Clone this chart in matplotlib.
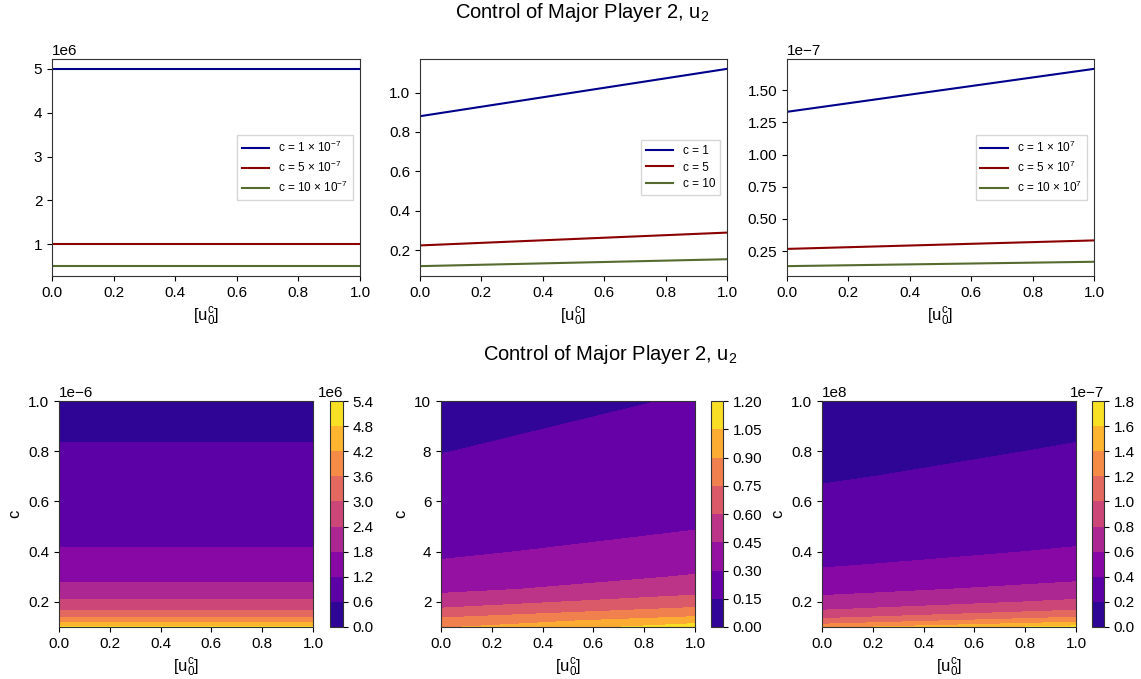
import numpy as np
import matplotlib
matplotlib.use("Agg")
import matplotlib.pyplot as plt

plt.rcParams['font.family'] = ['Liberation Sans', 'DejaVu Sans']
plt.rcParams['mathtext.default'] = 'regular'
plt.rcParams['axes.edgecolor'] = '0.2'

# ---- top row: control vs u0^c for three values of c ----
x_line = [0.0, 1.0]

# left panel, c = 1, 5, 10 (x 1e-7)
left_labels = [r'c = 1 × $10^{-7}$', r'c = 5 × $10^{-7}$', r'c = 10 × $10^{-7}$']
left_lines = [[5.0e6, 5.0e6], [1.0e6, 1.0e6], [0.5e6, 0.5e6]]

# middle panel, c = 1, 5, 10
mid_labels = ['c = 1', 'c = 5', 'c = 10']
mid_lines = [[0.88, 1.12], [0.225, 0.29], [0.12, 0.155]]

# right panel, c = 1, 5, 10 (x 1e7)
right_labels = [r'c = 1 × $10^{7}$', r'c = 5 × $10^{7}$', r'c = 10 × $10^{7}$']
right_lines = [[1.333e-7, 1.667e-7], [0.267e-7, 0.333e-7], [0.133e-7, 0.167e-7]]

line_colors = ['darkblue', 'darkred', 'darkolivegreen']

# ---- bottom row: control over (u0^c, c), values at u0^c = 0 and 1 ----
x_grid = [0.0, 1.0]

c_left = [0.10, 0.11, 0.12, 0.13, 0.14, 0.15, 0.17, 0.20, 0.25, 0.30,
          0.35, 0.40, 0.50, 0.60, 0.70, 0.80, 0.90, 1.00]          # x 1e-6
u_left = [[5.00, 5.00], [4.55, 4.55], [4.17, 4.17], [3.85, 3.85],
          [3.57, 3.57], [3.33, 3.33], [2.94, 2.94], [2.50, 2.50],
          [2.00, 2.00], [1.67, 1.67], [1.43, 1.43], [1.25, 1.25],
          [1.00, 1.00], [0.83, 0.83], [0.71, 0.71], [0.625, 0.625],
          [0.56, 0.56], [0.50, 0.50]]                                # x 1e6

c_mid = [1.0, 1.25, 1.5, 1.75, 2.0, 2.5, 3.0, 4.0, 5.0, 6.0, 8.0, 10.0]
u_mid = [[0.88, 1.12], [0.79, 0.99], [0.70, 0.85], [0.60, 0.76],
         [0.535, 0.67], [0.41, 0.54], [0.355, 0.46], [0.275, 0.36],
         [0.225, 0.29], [0.19, 0.245], [0.148, 0.19], [0.12, 0.155]]

c_right = [0.10, 0.11, 0.12, 0.13, 0.14, 0.15, 0.17, 0.20, 0.25, 0.30,
           0.35, 0.40, 0.50, 0.60, 0.70, 0.80, 0.90, 1.00]         # x 1e8
u_right = [[1.333, 1.667], [1.212, 1.515], [1.111, 1.389], [1.026, 1.282],
           [0.952, 1.190], [0.889, 1.111], [0.784, 0.980], [0.667, 0.833],
           [0.533, 0.667], [0.444, 0.556], [0.381, 0.476], [0.333, 0.417],
           [0.267, 0.333], [0.222, 0.278], [0.190, 0.238], [0.167, 0.208],
           [0.148, 0.185], [0.133, 0.167]]                          # x 1e-7

levels_left = np.arange(0, 5.41, 0.6) * 1e6
levels_mid = np.arange(0, 1.21, 0.15)
levels_right = np.arange(0, 1.81, 0.2) * 1e-7

title = r'Control of Major Player 2, $u_2$'
xlab = r'[$u_0^c$]'

W, H = 1141, 679
fig = plt.figure(figsize=(W / 100, H / 100), dpi=100)


def box(x0, y0, x1, y1):
    return [x0 / W, 1 - y1 / H, (x1 - x0) / W, (y1 - y0) / H]


fig.text(582 / W, 1 - 13 / H, title, ha='center', va='center', fontsize=14.5)
fig.text(610 / W, 1 - 354 / H, title, ha='center', va='center', fontsize=14.5)

top_boxes = [(52, 59, 360, 276), (420, 59, 727, 276), (787, 59, 1094, 276)]
top_data = [(left_lines, left_labels), (mid_lines, mid_labels), (right_lines, right_labels)]
for b, (lines, labels) in zip(top_boxes, top_data):
    ax = fig.add_axes(box(*b))
    for vals, lab, col in zip(lines, labels, line_colors):
        ax.plot(x_line, vals, color=col, lw=1.5, label=lab)
    ax.set_xlim(0, 1)
    ax.set_xlabel(xlab, fontsize=12)
    ax.tick_params(labelsize=11)
    ax.yaxis.get_offset_text().set_fontsize(11)
    ax.legend(loc='center right', fontsize=8.5, handlelength=2.3,
              labelspacing=0.4, borderaxespad=0.6, fancybox=False)

bot_boxes = [((59, 401, 313, 627), (330, 401, 343, 627)),
             ((441, 401, 695, 627), (711, 401, 723, 627)),
             ((822, 401, 1076, 627), (1092, 401, 1104, 627))]
bot_data = [(c_left, 1e-6, u_left, 1e6, levels_left),
            (c_mid, 1.0, u_mid, 1.0, levels_mid),
            (c_right, 1e8, u_right, 1e-7, levels_right)]
for (b, cb), (cs, cscale, us, uscale, lev) in zip(bot_boxes, bot_data):
    ax = fig.add_axes(box(*b))
    cax = fig.add_axes(box(*cb))
    X, Y = np.meshgrid(x_grid, np.array(cs) * cscale)
    Z = np.array(us) * uscale
    cf = ax.contourf(X, Y, Z, levels=lev, cmap='plasma')
    cbar = fig.colorbar(cf, cax=cax)
    cbar.ax.tick_params(labelsize=11)
    cbar.ax.yaxis.get_offset_text().set_fontsize(11)
    ax.set_xlim(0, 1)
    ax.set_xlabel(xlab, fontsize=12)
    ax.set_ylabel('c', fontsize=12)
    ax.tick_params(labelsize=11)
    ax.yaxis.get_offset_text().set_fontsize(11)

fig.savefig('out.png', dpi=100)
